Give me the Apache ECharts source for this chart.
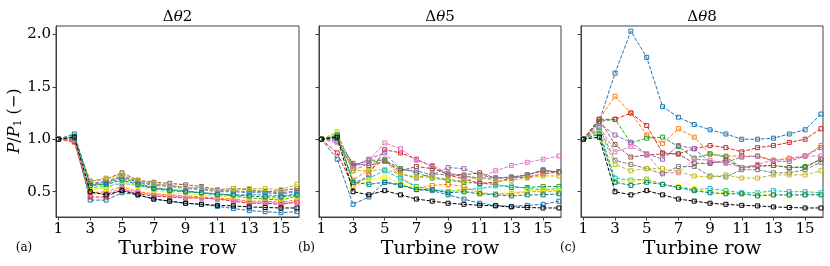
<!DOCTYPE html>
<html><head><meta charset="utf-8">
<script src="https://cdn.jsdelivr.net/npm/echarts@6/dist/echarts.min.js"></script>
<style>html,body{margin:0;padding:0;background:#fff}#c{width:830px;height:266px}</style>
</head><body><div id="c"></div>
<script>
// ---------- data ----------
const rows = [1,2,3,4,5,6,7,8,9,10,11,12,13,14,15,16];
const xTicks = [1,3,5,7,9,11,13,15];
const yTicks = [0.5,1.0,1.5,2.0];
const panelTitles = ['2','5','8'];
const panelLetters = ['(a)','(b)','(c)'];
const xLabel = 'Turbine row';
const seriesColors = ['#1f77b4','#ff7f0e','#2ca02c','#d62728','#9467bd','#8c564b','#e377c2','#7f7f7f','#bcbd22','#17becf','#f2f200','#008080','#000000'];

// reference case (black) – same in every panel
const baseline = [1.00,1.02,0.50,0.47,0.51,0.47,0.43,0.41,0.39,0.38,0.37,0.365,0.355,0.35,0.345,0.345];

// panel (a)  Δθ2
const dt2_blue   = [1.00,1.00,0.42,0.42,0.49,0.47,0.43,0.41,0.39,0.38,0.36,0.34,0.32,0.31,0.30,0.31];
const dt2_orange = [1.00,0.97,0.49,0.50,0.55,0.50,0.48,0.47,0.46,0.45,0.44,0.43,0.41,0.41,0.40,0.42];
const dt2_green  = [1.00,1.02,0.56,0.58,0.63,0.58,0.54,0.52,0.51,0.49,0.48,0.46,0.44,0.43,0.42,0.46];
const dt2_red    = [1.00,0.98,0.45,0.45,0.52,0.48,0.46,0.45,0.44,0.44,0.43,0.41,0.39,0.39,0.38,0.40];
const dt2_purple = [1.00,1.00,0.57,0.59,0.64,0.59,0.56,0.55,0.53,0.52,0.50,0.50,0.49,0.49,0.48,0.50];
const dt2_brown  = [1.00,1.01,0.60,0.62,0.68,0.61,0.59,0.58,0.565,0.55,0.52,0.53,0.52,0.50,0.51,0.53];
const dt2_pink   = [1.00,0.99,0.48,0.48,0.53,0.49,0.47,0.46,0.45,0.44,0.43,0.42,0.40,0.40,0.39,0.40];
const dt2_gray   = [1.00,1.01,0.58,0.60,0.65,0.60,0.57,0.56,0.54,0.53,0.51,0.51,0.50,0.50,0.49,0.51];
const dt2_olive  = [1.00,1.02,0.60,0.63,0.66,0.61,0.58,0.56,0.54,0.54,0.52,0.53,0.53,0.53,0.52,0.57];
const dt2_cyan   = [1.00,1.03,0.54,0.55,0.58,0.56,0.53,0.52,0.50,0.49,0.48,0.47,0.47,0.47,0.46,0.48];
const dt2_yellow = [1.00,1.02,0.53,0.53,0.60,0.55,0.51,0.49,0.48,0.47,0.46,0.45,0.44,0.44,0.43,0.45];
const dt2_teal   = [1.00,1.05,0.56,0.57,0.61,0.57,0.53,0.51,0.50,0.49,0.47,0.47,0.46,0.45,0.45,0.47];

// panel (b)  Δθ5
const dt5_blue   = [1.00,0.81,0.38,0.45,0.59,0.57,0.52,0.51,0.47,0.43,0.39,0.37,0.36,0.37,0.38,0.41];
const dt5_orange = [1.00,1.02,0.61,0.71,0.80,0.64,0.53,0.56,0.57,0.55,0.49,0.48,0.48,0.50,0.50,0.51];
const dt5_green  = [1.00,1.03,0.75,0.80,0.80,0.72,0.68,0.63,0.61,0.59,0.58,0.57,0.54,0.54,0.55,0.55];
const dt5_red    = [1.00,0.87,0.55,0.66,0.90,0.87,0.81,0.74,0.66,0.62,0.58,0.59,0.63,0.64,0.67,0.69];
const dt5_purple = [1.00,0.98,0.74,0.81,0.87,0.71,0.70,0.66,0.73,0.72,0.66,0.63,0.63,0.66,0.70,0.69];
const dt5_brown  = [1.00,1.00,0.77,0.75,0.79,0.70,0.74,0.72,0.67,0.66,0.68,0.63,0.64,0.66,0.70,0.69];
const dt5_pink   = [1.00,0.965,0.72,0.80,0.965,0.91,0.80,0.75,0.68,0.64,0.63,0.70,0.75,0.78,0.81,0.84];
const dt5_gray   = [1.00,1.01,0.70,0.77,0.81,0.67,0.63,0.67,0.66,0.65,0.63,0.63,0.64,0.66,0.71,0.68];
const dt5_olive  = [1.00,1.07,0.70,0.70,0.71,0.67,0.64,0.64,0.62,0.60,0.64,0.60,0.61,0.63,0.65,0.65];
const dt5_cyan   = [1.00,1.03,0.59,0.63,0.70,0.625,0.55,0.52,0.50,0.52,0.53,0.555,0.555,0.53,0.52,0.53];
const dt5_yellow = [1.00,1.06,0.54,0.61,0.64,0.58,0.53,0.52,0.52,0.51,0.49,0.48,0.49,0.51,0.51,0.51];
const dt5_teal   = [1.00,1.04,0.59,0.57,0.59,0.56,0.52,0.52,0.49,0.50,0.48,0.47,0.46,0.47,0.47,0.48];

// panel (c)  Δθ8
const dt8_blue   = [1.00,1.17,1.63,2.03,1.78,1.31,1.21,1.14,1.09,1.05,1.00,1.00,1.01,1.05,1.09,1.24];
const dt8_orange = [1.00,1.19,1.41,1.25,1.04,0.96,1.10,1.02,0.86,0.84,0.84,0.84,0.80,0.82,0.84,0.94];
const dt8_green  = [1.00,1.17,1.19,0.965,1.01,1.02,0.93,0.82,0.86,0.83,0.73,0.75,0.75,0.73,0.74,0.81];
const dt8_red    = [1.00,1.19,1.19,1.25,1.13,0.87,0.86,0.91,0.94,0.92,0.88,0.92,0.94,0.97,1.00,1.10];
const dt8_purple = [1.00,1.15,1.04,0.97,0.86,0.81,0.94,0.91,0.78,0.78,0.83,0.84,0.79,0.79,0.84,0.92];
const dt8_brown  = [1.00,1.19,0.95,0.83,0.85,0.86,0.86,0.77,0.77,0.80,0.73,0.74,0.75,0.73,0.73,0.81];
const dt8_pink   = [1.00,1.12,0.88,0.93,0.86,0.68,0.68,0.81,0.80,0.77,0.73,0.76,0.80,0.81,0.84,0.84];
const dt8_gray   = [1.00,1.11,0.80,0.76,0.72,0.67,0.74,0.74,0.65,0.64,0.71,0.71,0.68,0.68,0.71,0.78];
const dt8_olive  = [1.00,1.09,0.76,0.70,0.72,0.72,0.69,0.65,0.64,0.66,0.63,0.63,0.66,0.66,0.66,0.70];
const dt8_cyan   = [1.00,1.08,0.63,0.61,0.62,0.57,0.54,0.52,0.53,0.51,0.49,0.49,0.51,0.50,0.50,0.49];
const dt8_yellow = [1.00,1.06,0.60,0.60,0.61,0.57,0.55,0.53,0.50,0.49,0.48,0.48,0.47,0.46,0.47,0.48];
const dt8_teal   = [1.00,1.05,0.59,0.56,0.59,0.57,0.54,0.51,0.49,0.48,0.48,0.46,0.47,0.47,0.47,0.47];

const panelData = [
  [dt2_blue,dt2_orange,dt2_green,dt2_red,dt2_purple,dt2_brown,dt2_pink,dt2_gray,dt2_olive,dt2_cyan,dt2_yellow,dt2_teal,baseline],
  [dt5_blue,dt5_orange,dt5_green,dt5_red,dt5_purple,dt5_brown,dt5_pink,dt5_gray,dt5_olive,dt5_cyan,dt5_yellow,dt5_teal,baseline],
  [dt8_blue,dt8_orange,dt8_green,dt8_red,dt8_purple,dt8_brown,dt8_pink,dt8_gray,dt8_olive,dt8_cyan,dt8_yellow,dt8_teal,baseline]
];

// ---------- layout ----------
const FONT = 'DejaVu Serif';
const AX = '#404040';
const grids = [
  {left:56, top:26, width:243, height:191},
  {left:319, top:26, width:242, height:191},
  {left:581, top:26, width:242, height:191}
];

const chart = echarts.init(document.getElementById('c'), null, {renderer:'canvas'});

const option = {
  animation:false,
  backgroundColor:'#fff',
  grid: grids.map(g => Object.assign({show:true, borderColor:AX, borderWidth:1, backgroundColor:'transparent', containLabel:false}, g)),
  xAxis: grids.map((g,i) => ({
    gridIndex:i, type:'value', min:0.85, max:16.13,
    axisLine:{show:true, onZero:false, lineStyle:{color:AX, width:1}},
    axisTick:{show:true, inside:false, length:3.5, customValues:xTicks, lineStyle:{color:AX, width:1}},
    axisLabel:{show:true, customValues:xTicks, fontFamily:FONT, fontSize:15, color:'#000', margin:5},
    splitLine:{show:false}
  })),
  yAxis: grids.map((g,i) => ({
    gridIndex:i, type:'value', min:0.259, max:2.079,
    axisLine:{show:true, onZero:false, lineStyle:{color:AX, width:1}},
    axisTick:{show:true, inside:false, length:3.5, customValues:yTicks, lineStyle:{color:AX, width:1}},
    axisLabel:{show:i===0, customValues:yTicks, fontFamily:FONT, fontSize:15, color:'#000', margin:5,
               formatter:v => Number(v).toFixed(1)},
    splitLine:{show:false}
  })),
  series: [],
  graphic: []
};

panelData.forEach((list, p) => {
  list.forEach((vals, k) => {
    const c = seriesColors[k];
    option.series.push({
      type:'line', xAxisIndex:p, yAxisIndex:p,
      data: rows.map((r,i) => [r, vals[i]]),
      symbol:'rect', symbolSize:4, showSymbol:true,
      lineStyle:{color:c, width:1, type:[3.7,1.6]},
      itemStyle:{color:'rgba(255,255,255,0)', borderColor:c, borderWidth:1},
      emphasis:{disabled:true}, silent:true, z:2+k*0.01
    });
  });
});

grids.forEach((g,p) => {
  const cx = g.left + g.width/2;
  option.graphic.push({
    type:'text', x:cx, y:17.5,
    style:{text:'{n|Δ}{i|θ}{n|'+panelTitles[p]+'}', align:'center', verticalAlign:'middle',
      rich:{n:{fontFamily:FONT, fontSize:15, fill:'#000'}, i:{fontFamily:FONT, fontSize:15, fontStyle:'italic', fill:'#000'}}}
  });
  option.graphic.push({
    type:'text', x:cx, y:249,
    style:{text:xLabel, fontFamily:FONT, fontSize:19, fill:'#000', align:'center', verticalAlign:'middle'}
  });
});
const letterX = [24, 306.5, 568];
panelLetters.forEach((t,p) => {
  option.graphic.push({
    type:'text', x:letterX[p], y:248,
    style:{text:t, fontFamily:FONT, fontSize:12, fill:'#000', align:'center', verticalAlign:'middle'}
  });
});
option.graphic.push({
  type:'text', x:15, y:121, rotation:Math.PI/2,
  style:{text:'{i|P}{n|/}{i|P}{s|1}{n| (−)}', align:'center', verticalAlign:'middle',
    rich:{i:{fontFamily:FONT, fontSize:16, fontStyle:'italic', fill:'#000'},
          n:{fontFamily:FONT, fontSize:16, fill:'#000'},
          s:{fontFamily:FONT, fontSize:11, fill:'#000', padding:[6,0,0,0]}}}
});

chart.setOption(option);
</script></body></html>
